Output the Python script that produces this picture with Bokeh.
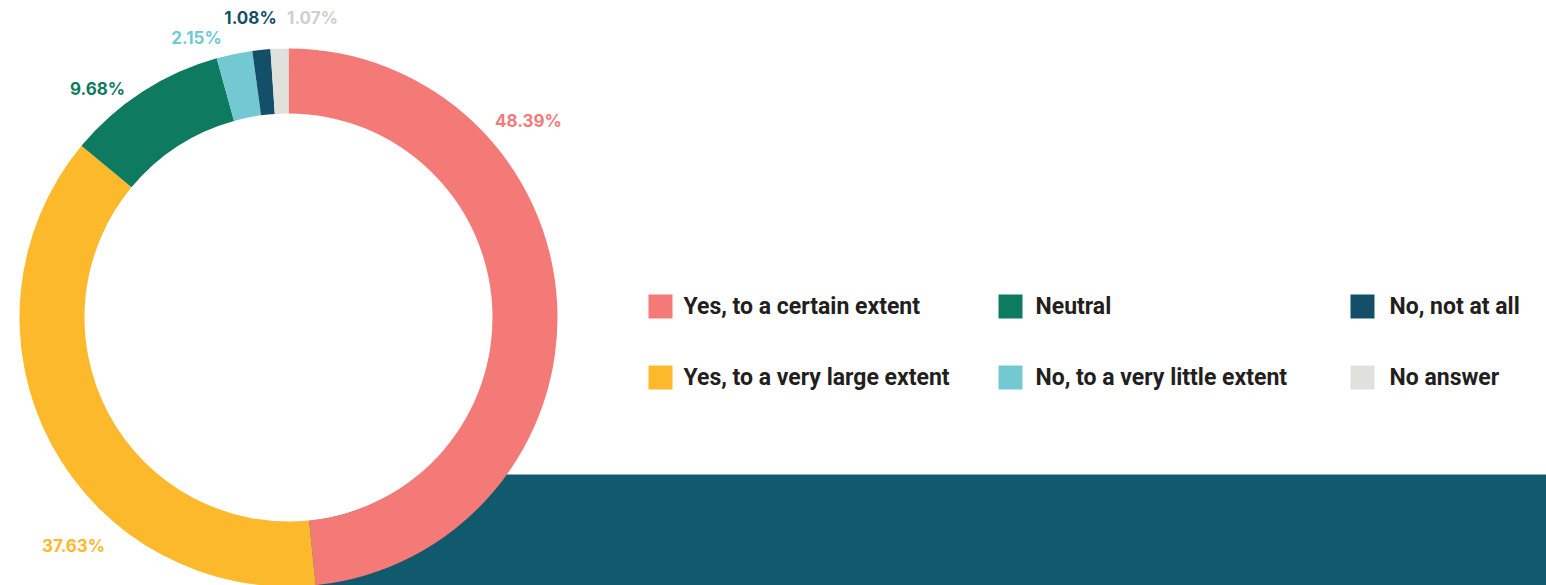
import numpy as np
from bokeh.plotting import figure
from bokeh.models import Range1d
from bokeh.core.properties import value
from bokeh.embed import file_html
from bokeh.resources import INLINE

# ---- data ----
categories = ["Yes, to a certain extent", "Yes, to a very large extent", "Neutral",
              "No, to a very little extent", "No, not at all", "No answer"]
percent = [48.39, 37.63, 9.68, 2.15, 1.08, 1.07]
colors = ["#f47a78", "#fcb92c", "#0e7a5f", "#72c9d2", "#134f69", "#e1e1dc"]
label_colors = ["#f47a78", "#fcb92c", "#0e7a5f", "#72c9d2", "#134f69", "#cfcfcc"]

# ---- layout (image pixel coords, y down) ----
IMG_W, IMG_H = 1546, 585
def Y(v):
    return IMG_H - v

CX, CY = 288, 317
R_OUT, R_IN = 269, 204
label_pos = [(528, 120), (73, 545), (97, 88), (196, 37), (250, 17), (312, 17)]
legend_sq_x = [648, 998, 1350]
legend_txt_x = [683, 1035, 1389]
legend_row_y = [306, 377]
SQ = 24

p = figure(width=IMG_W, height=IMG_H, x_range=Range1d(0, IMG_W), y_range=Range1d(0, IMG_H),
           output_backend="svg", toolbar_location=None, min_border=0,
           x_axis_location=None, y_axis_location=None)
p.grid.visible = False
p.outline_line_color = None
p.background_fill_color = "white"
p.border_fill_color = "white"

# dark band behind the donut
p.quad(left=300, right=1600, top=Y(474), bottom=Y(600), fill_color="#115a6e", line_color=None)
# white hole
p.circle(x=CX, y=Y(CY), radius=R_IN + 0.5, fill_color="white", line_color=None)

vals = np.array(percent)
cum = np.concatenate([[0], np.cumsum(vals)]) / vals.sum()
start = np.pi / 2 - 2 * np.pi * cum[:-1]
end = np.pi / 2 - 2 * np.pi * cum[1:]
p.annular_wedge(x=CX, y=Y(CY), inner_radius=R_IN, outer_radius=R_OUT,
                start_angle=list(start), end_angle=list(end), direction="clock",
                fill_color=colors, line_color=None)

# percentage labels
p.text(x=[q[0] for q in label_pos], y=[Y(q[1]) for q in label_pos],
       text=[f"{v:.2f}%" for v in percent], text_color=label_colors,
       text_font=value("Inter"), text_font_style="bold", text_font_size="17px",
       text_align="center", text_baseline="middle")

# legend
for i, (cat, col) in enumerate(zip(categories, colors)):
    c, r = i // 2, i % 2
    yy = legend_row_y[r]
    p.rect(x=legend_sq_x[c] + SQ / 2, y=Y(yy), width=SQ, height=SQ, fill_color=col, line_color=None)
    p.text(x=[legend_txt_x[c]], y=[Y(yy)], text=[cat], text_color="#231f20",
           text_font=value("Roboto"), text_font_style="bold", text_font_size="23px",
           text_align="left", text_baseline="middle")

open("out.html", "w").write(file_html(p, INLINE))
